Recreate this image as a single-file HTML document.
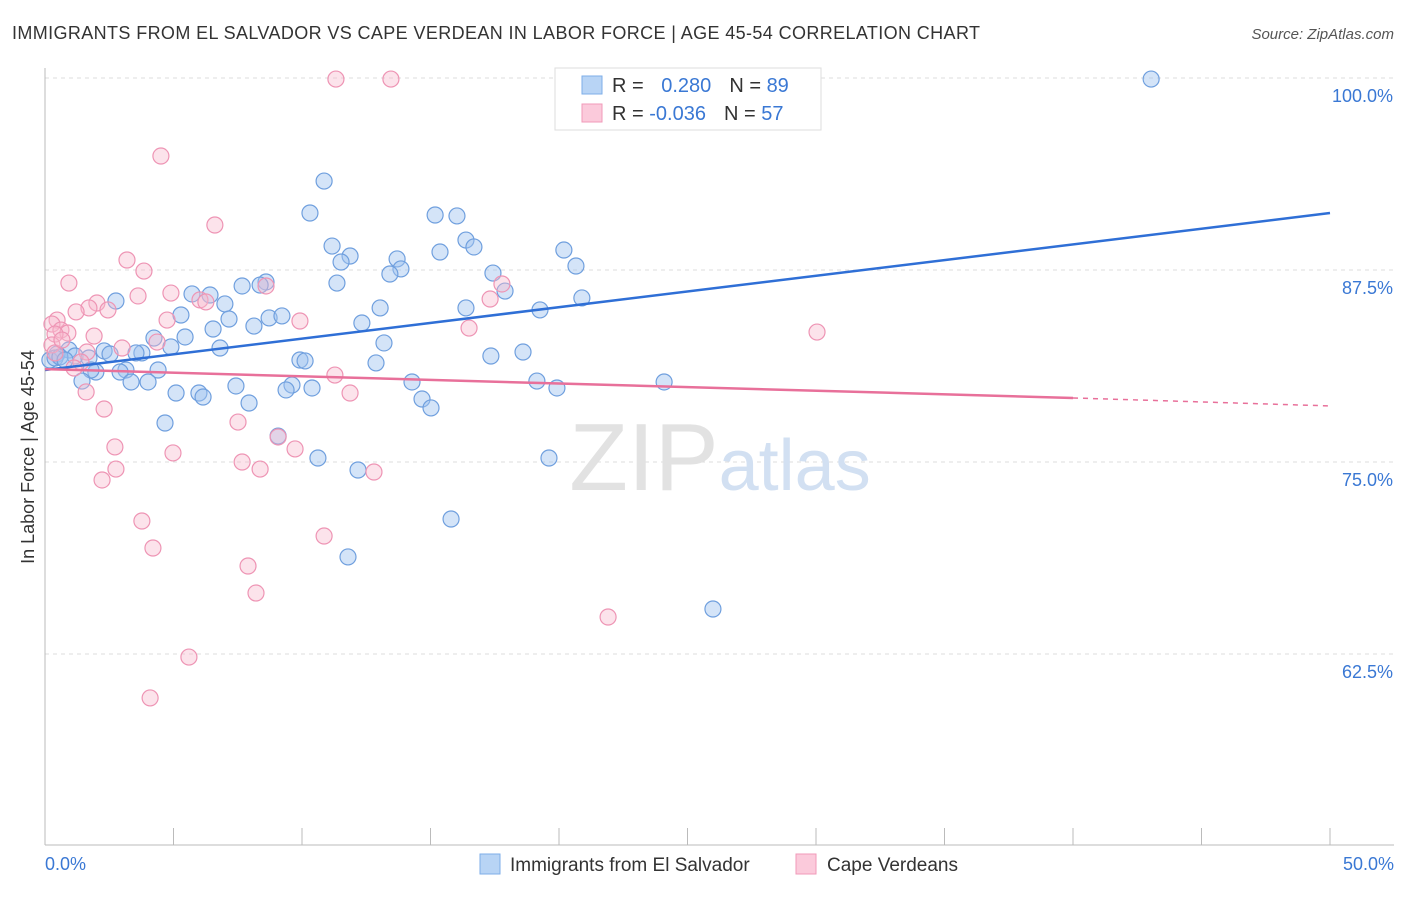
<!DOCTYPE html>
<html><head><meta charset="utf-8"><style>
body{margin:0;background:#fff;font-family:"Liberation Sans",sans-serif;}
svg text{font-family:"Liberation Sans",sans-serif;}
</style></head><body>
<svg id="c" width="1406" height="892" xmlns="http://www.w3.org/2000/svg">
<text x="12" y="39" font-size="18" fill="#333" textLength="968" lengthAdjust="spacing">IMMIGRANTS FROM EL SALVADOR VS CAPE VERDEAN IN LABOR FORCE | AGE 45-54 CORRELATION CHART</text>
<text x="1394" y="39" font-size="15" fill="#555" text-anchor="end" font-style="italic">Source: ZipAtlas.com</text>
<text x="34" y="457" font-size="18" fill="#333" text-anchor="middle" transform="rotate(-90 34 457)">In Labor Force | Age 45-54</text>
<g id="grid"></g>
<text x="720" y="490" font-size="96" fill="#e2e2e2" text-anchor="middle" font-family="Liberation Serif">ZIP<tspan fill="#d2e0f2" font-family="Liberation Sans" font-size="72">atlas</tspan></text>
<g id="pts"></g>
<g id="trends"></g>
<g>
<rect x="555" y="68" width="266" height="62" fill="#fff" stroke="#ddd"/>
<rect x="582" y="76" width="20" height="18" fill="#b8d4f5" stroke="#7eaee8"/>
<rect x="582" y="104" width="20" height="18" fill="#fbcadb" stroke="#f09ab8"/>
<text x="612" y="92" font-size="20" fill="#333">R = <tspan fill="#3a78d4" dx="12">0.280</tspan><tspan dx="18" fill="#333">N = </tspan><tspan fill="#3a78d4">89</tspan></text>
<text x="612" y="120" font-size="20" fill="#333">R = <tspan fill="#3a78d4">-0.036</tspan><tspan dx="18" fill="#333">N = </tspan><tspan fill="#3a78d4">57</tspan></text>
</g>
<g>
<rect x="480" y="854" width="20" height="20" fill="#b8d4f5" stroke="#7eaee8"/>
<text x="510" y="871" font-size="19" fill="#333">Immigrants from El Salvador</text>
<rect x="796" y="854" width="20" height="20" fill="#fbcadb" stroke="#f09ab8"/>
<text x="827" y="871" font-size="19" fill="#333">Cape Verdeans</text>
</g>
</svg>
<script>
const yTicks=[62.5,75,87.5,100];
const xTickLabels=["0.0%","50.0%"];
const blueX=[], blueY=[], pinkX=[], pinkY=[];
const bluePx=[[1151,79],[324,181],[310,213],[435,215],[457,216],[466,240],[332,246],[474,247],[440,252],[564,250],[350,256],[341,262],[397,259],[401,269],[576,266],[390,274],[493,273],[337,283],[266,282],[260,285],[242,286],[505,291],[192,294],[210,295],[116,301],[225,304],[582,298],[380,308],[466,308],[540,310],[181,315],[229,319],[362,323],[254,326],[269,318],[282,316],[213,329],[185,337],[154,338],[384,343],[171,347],[220,348],[69,350],[104,351],[142,353],[57,354],[75,356],[110,354],[136,353],[491,356],[523,352],[300,360],[305,361],[376,363],[50,360],[89,358],[55,358],[96,372],[91,370],[126,370],[158,370],[120,372],[82,381],[131,382],[148,382],[537,381],[664,382],[412,382],[292,385],[236,386],[312,388],[286,390],[176,393],[199,393],[557,388],[203,397],[422,399],[249,403],[431,408],[165,423],[278,436],[318,458],[549,458],[358,470],[451,519],[348,557],[713,609],[60,357],[65,360]];
const pinkPx=[[336,79],[391,79],[161,156],[215,225],[127,260],[144,271],[69,283],[171,293],[266,286],[502,284],[200,300],[206,302],[97,303],[138,296],[89,308],[108,310],[76,312],[490,299],[300,321],[167,320],[57,320],[52,324],[61,330],[68,333],[94,336],[469,328],[817,332],[55,334],[157,342],[122,348],[87,352],[52,345],[81,362],[74,368],[335,375],[86,392],[350,393],[104,409],[238,422],[278,437],[115,447],[295,449],[173,453],[242,462],[260,469],[116,469],[374,472],[102,480],[142,521],[324,536],[153,548],[248,566],[256,593],[608,617],[189,657],[150,698],[55,353],[62,340]];
bluePx.forEach(p=>{blueX.push(+((p[0]-45)/1285*50).toFixed(2));blueY.push(+(100-(p[1]-78)/15.36).toFixed(2));});
pinkPx.forEach(p=>{pinkX.push(+((p[0]-45)/1285*50).toFixed(2));pinkY.push(+(100-(p[1]-78)/15.36).toFixed(2));});
const blueTrend=[[0,80.99],[50,91.21]];
const pinkTrend=[[0,81.05],[40,79.17],[50,78.65]];
const NS="http://www.w3.org/2000/svg";
const sx=v=>45+v/50*1285, sy=v=>78+(100-v)*15.36;
function mk(t,a,parent){const e=document.createElementNS(NS,t);for(const k in a)e.setAttribute(k,a[k]);parent.appendChild(e);return e;}
const grid=document.getElementById('grid');
yTicks.forEach(t=>{
 const l=mk('line',{x1:45,x2:1394,y1:sy(t),y2:sy(t),stroke:'#ddd','stroke-dasharray':'4,4'},grid);
 
 
 const tx=mk('text',{x:1393,y:sy(t)+24,'font-size':18,fill:'#3a78d4','text-anchor':'end'},grid);
 tx.textContent=t.toFixed(1)+'%';
 
 
});
mk('line',{x1:45,x2:45,y1:68,y2:845,stroke:'#bbb'},grid);
mk('line',{x1:45,x2:1394,y1:845,y2:845,stroke:'#bbb'},grid);
for(let i=0;i<=10;i++){mk('line',{x1:sx(i*5),x2:sx(i*5),y1:828,y2:845,stroke:'#bbb'},grid);}
const xl=[[0,'start',45],[50,'end',1394]];
xl.forEach((d,i)=>{const t=mk('text',{x:d[2],y:870,'font-size':18,fill:'#3a78d4','text-anchor':d[1]},grid);t.textContent=xTickLabels[i];

});
const pts=document.getElementById('pts');
blueX.forEach((x,i)=>{const c=mk('circle',{cx:sx(x),cy:sy(blueY[i]),r:8,fill:'rgba(160,196,240,0.45)',stroke:'#6f9fde','stroke-width':1.2},pts);

});
pinkX.forEach((x,i)=>{const c=mk('circle',{cx:sx(x),cy:sy(pinkY[i]),r:8,fill:'rgba(248,184,206,0.4)',stroke:'#ee94b4','stroke-width':1.2},pts);

});
const tr=document.getElementById('trends');
const bl=mk('line',{x1:sx(blueTrend[0][0]),y1:sy(blueTrend[0][1]),x2:sx(blueTrend[1][0]),y2:sy(blueTrend[1][1]),stroke:'#2f6fd6','stroke-width':2.5},tr);


const pl=mk('line',{x1:sx(pinkTrend[0][0]),y1:sy(pinkTrend[0][1]),x2:sx(pinkTrend[1][0]),y2:sy(pinkTrend[1][1]),stroke:'#e8709a','stroke-width':2.5},tr);


const pd=mk('line',{x1:sx(pinkTrend[1][0]),y1:sy(pinkTrend[1][1]),x2:sx(pinkTrend[2][0]),y2:sy(pinkTrend[2][1]),stroke:'#e8709a','stroke-width':1.5,'stroke-dasharray':'5,5'},tr);


</script>
</body></html>
